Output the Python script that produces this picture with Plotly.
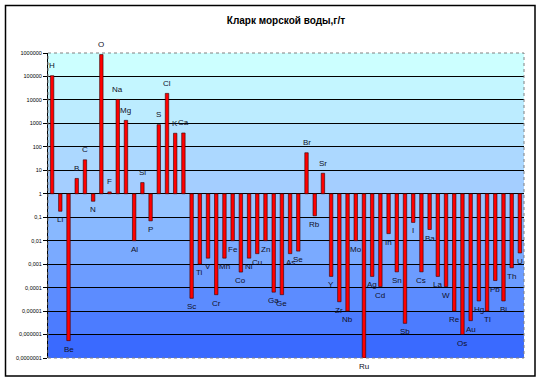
import numpy as np
import plotly.graph_objects as go

elements = ["H","Li","Be","B","C","N","O","F","Na","Mg","Al","Si","P","S","Cl","K","Ca",
            "Sc","Ti","V","Cr","Mn","Fe","Co","Ni","Cu","Zn","Ga","Ge","As","Se","Br","Rb",
            "Sr","Y","Zr","Nb","Mo","Ru","Ag","Cd","In","Sn","Sb","I","Cs","Ba","La","W",
            "Re","Os","Au","Hg","Tl","Pb","Bi","Th","U"]
values = [1.08e5, 0.18, 5.5e-7, 4.5, 28, 0.48, 8.57e5, 1.2, 1.05e4, 1350, 0.01, 3, 0.07,
          885, 1.9e4, 380, 390,
          3.5e-5, 0.001, 0.0018, 5e-5, 0.0018, 0.01, 0.00046, 0.0018, 0.0028, 0.01,
          6.4e-5, 5e-5, 0.0028, 0.0036, 56, 0.115,
          7.5, 0.0003, 2.5e-5, 1e-5, 0.01, 1e-7, 0.0003, 0.00011, 0.02, 0.00047, 3e-6,
          0.06, 0.00047, 0.03, 0.0003, 0.00011,
          1e-5, 1e-6, 3.9e-6, 2.7e-5, 1e-5, 0.0002, 2.7e-5, 0.0007, 0.003]

tick_vals = [1e6, 1e5, 1e4, 1e3, 1e2, 1e1, 1, 0.1, 0.01, 0.001, 0.0001, 0.00001, 0.000001, 0.0000001]
tick_text = ["1000000", "100000", "10000", "1000", "100", "10", "1", "0,1", "0,01", "0,001",
             "0,0001", "0,00001", "0,000001", "0,0000001"]

title_text = "Кларк морской воды,г/т"

FONT = "Liberation Sans, Arial, sans-serif"
vals = np.array(values)
base_val = 1.0

fig = go.Figure()

fig.add_trace(go.Bar(
    x=elements, y=vals - base_val, base=base_val,
    marker=dict(color="#ff0000", line=dict(color="#300000", width=0.6)),
    width=0.42, hoverinfo="skip", showlegend=False,
))

annotations = []
for e, v in zip(elements, values):
    up = v > 1
    annotations.append(dict(
        x=e, y=float(np.log10(v)), xref="x", yref="y", text=e, showarrow=False,
        xanchor="center", yanchor="middle", yshift=10 if up else -8.5,
        font=dict(family=FONT, size=8, color="#101028"),
    ))

# background gradient bands (paper coords, 13 decades from 1e-7 to 1e6)
band_colors = [
    (204, 255, 255), (196, 246, 255), (188, 236, 255), (180, 226, 255), (172, 216, 255),
    (164, 206, 255), (150, 196, 255), (136, 184, 255), (122, 170, 255), (108, 156, 255),
    (92, 140, 255), (76, 124, 255), (58, 106, 255),
]
shapes = []
for i, c in enumerate(band_colors):
    y1 = 1 - i / 13
    y0 = 1 - (i + 1) / 13
    shapes.append(dict(type="rect", xref="paper", yref="paper", x0=0, x1=1, y0=y0, y1=y1,
                       fillcolor="rgb(%d,%d,%d)" % c, line=dict(width=0), layer="below"))
# plot area border (dotted grey)
shapes.append(dict(type="rect", xref="paper", yref="paper", x0=0, x1=1, y0=0, y1=1,
                   line=dict(color="#808080", width=1, dash="dot"), fillcolor="rgba(0,0,0,0)"))
# outer chart frame
L, R, T, B = 48, 17, 53, 24
W, H = 541, 382
pw, ph = W - L - R, H - T - B
shapes.append(dict(type="rect", xref="paper", yref="paper",
                   x0=(5.5 - L) / pw, x1=(535 - L) / pw,
                   y0=(H - B - 376) / ph, y1=(H - B - 5.5) / ph,
                   line=dict(color="#000000", width=1.5), fillcolor="rgba(0,0,0,0)"))

fig.update_layout(
    width=W, height=H,
    margin=dict(l=L, r=R, t=T, b=B),
    paper_bgcolor="#ffffff", plot_bgcolor="rgba(0,0,0,0)",
    shapes=shapes, annotations=annotations,
    title=dict(text="<b>" + title_text + "</b>", x=0.5, xref="paper", xanchor="center",
               y=1 - 20 / H, yref="container", yanchor="middle",
               font=dict(family=FONT, size=10, color="#000000")),
    xaxis=dict(type="category", range=[-0.5, len(elements) - 0.5], showticklabels=False,
               showgrid=False, zeroline=False, showline=False, ticks=""),
    yaxis=dict(type="log", range=[-7, 6], tickvals=tick_vals, ticktext=tick_text,
               showgrid=True, gridcolor="#000000", gridwidth=1,
               showline=True, linecolor="#000000", linewidth=1,
               ticks="outside", ticklen=4, tickcolor="#000000",
               tickfont=dict(family=FONT, size=5.5, color="#000000"), zeroline=False),
)

fig.write_html("out.html", config={"displayModeBar": False, "staticPlot": True},
               post_script="document.body.style.margin='0';document.body.style.overflow='hidden';")
